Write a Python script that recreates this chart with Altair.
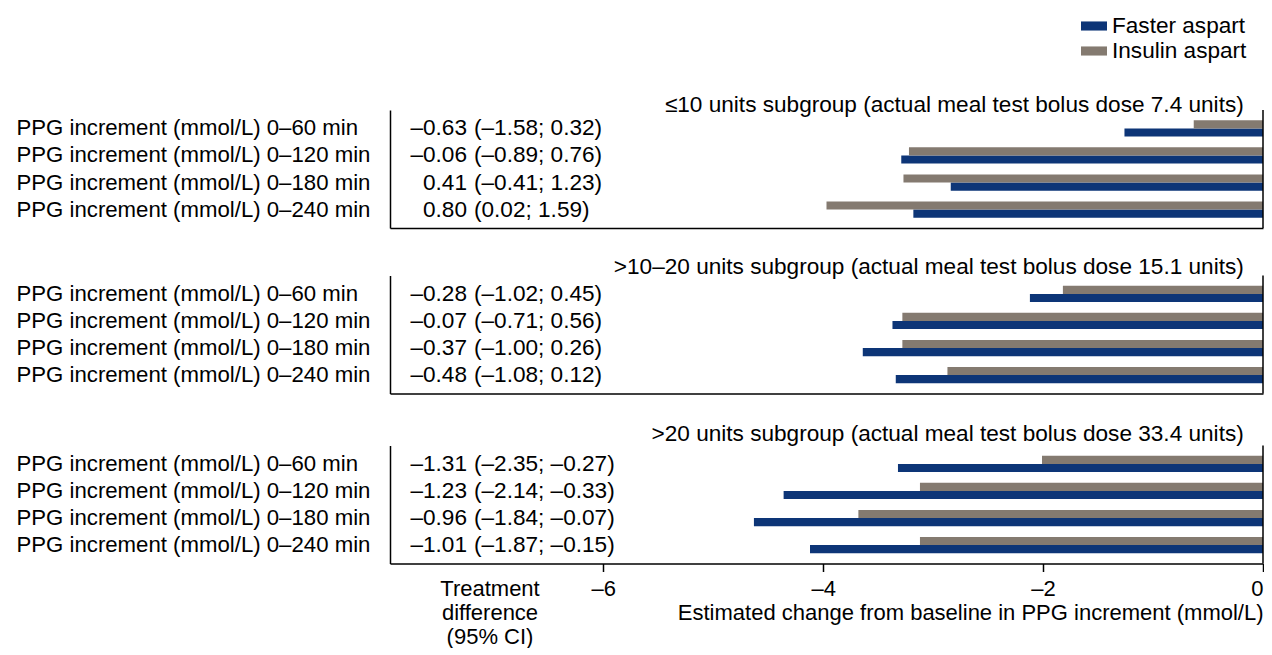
import altair as alt
import pandas as pd

FONT = "Liberation Sans"

rows = [
    "PPG increment (mmol/L) 0–60 min",
    "PPG increment (mmol/L) 0–120 min",
    "PPG increment (mmol/L) 0–180 min",
    "PPG increment (mmol/L) 0–240 min",
]
treatments = ["Faster aspart", "Insulin aspart"]
colors = ["#0d3577", "#847a70"]
subgroups = [
    "≤10 units subgroup (actual meal test bolus dose 7.4 units)",
    ">10–20 units subgroup (actual meal test bolus dose 15.1 units)",
    ">20 units subgroup (actual meal test bolus dose 33.4 units)",
]

faster_1 = [-1.26, -3.29, -2.84, -3.18]
insulin_1 = [-0.63, -3.22, -3.27, -3.97]
faster_2 = [-2.12, -3.37, -3.64, -3.34]
insulin_2 = [-1.82, -3.28, -3.28, -2.87]
faster_3 = [-3.32, -4.36, -4.63, -4.12]
insulin_3 = [-2.01, -3.12, -3.68, -3.12]

est_1 = ["–0.63", "–0.06", "0.41", "0.80"]
ci_1 = ["(–1.58; 0.32)", "(–0.89; 0.76)", "(–0.41; 1.23)", "(0.02; 1.59)"]
est_2 = ["–0.28", "–0.07", "–0.37", "–0.48"]
ci_2 = ["(–1.02; 0.45)", "(–0.71; 0.56)", "(–1.00; 0.26)", "(–1.08; 0.12)"]
est_3 = ["–1.31", "–1.23", "–0.96", "–1.01"]
ci_3 = ["(–2.35; –0.27)", "(–2.14; –0.33)", "(–1.84; –0.07)", "(–1.87; –0.15)"]

tick_values = [-6, -4, -2, 0]
x_title = "Estimated change from baseline in PPG increment (mmol/L)"
diff_header = "Treatment\ndifference\n(95% CI)"

panels_data = [
    (subgroups[0], faster_1, insulin_1, est_1, ci_1, -7),
    (subgroups[1], faster_2, insulin_2, est_2, ci_2, -4),
    (subgroups[2], faster_3, insulin_3, est_3, ci_3, -1),
]

FS = 22.6
W, H = 873, 118
x_scale = alt.Scale(domain=[-7.94, 0], nice=False)
y_scale = alt.Scale(paddingInner=0.4, paddingOuter=0.38)
y_axis = alt.Axis(title=None, ticks=False, tickSize=0, labelAlign="left", labelPadding=374,
                  labelLimit=500, labelBaseline="middle", labelFontSize=22.2, domain=True)


def panel(title, fa, ia, est, ci, toff, last):
    bar_df = pd.DataFrame({
        "row": rows * 2,
        "treatment": ["Faster aspart"] * 4 + ["Insulin aspart"] * 4,
        "value": fa + ia,
    })
    if last:
        xaxis = alt.Axis(values=tick_values, ticks=True, tickSize=8, labelPadding=7,
                         labelFlush=True,
                         labelExpr="datum.value == 0 ? '0' : '–' + format(abs(datum.value), 'd')",
                         title=x_title, titleAnchor="end", titlePadding=3)
    else:
        xaxis = alt.Axis(labels=False, ticks=False, title=None, domain=True)
    bars = alt.Chart(bar_df).mark_bar().encode(
        x=alt.X("value:Q", scale=x_scale, axis=xaxis),
        y=alt.Y("row:N", sort=rows, scale=y_scale, axis=y_axis),
        yOffset=alt.YOffset("treatment:N", sort=["Insulin aspart", "Faster aspart"]),
        color=alt.Color("treatment:N", scale=alt.Scale(domain=treatments, range=colors),
                        legend=alt.Legend(title=None)),
    )
    diff_df = pd.DataFrame({"row": rows, "est": est, "ci": ci})
    est_text = alt.Chart(diff_df).mark_text(align="right", baseline="middle", fontSize=FS, font=FONT,
                                            color="black").encode(
        x=alt.value(77),
        y=alt.Y("row:N", sort=rows),
        text="est:N",
    )
    ci_text = alt.Chart(diff_df).mark_text(align="left", baseline="middle", fontSize=FS, font=FONT,
                                           color="black").encode(
        x=alt.value(84),
        y=alt.Y("row:N", sort=rows),
        text="ci:N",
    )
    zero_df = pd.DataFrame({"z": [0]})
    rule = alt.Chart(zero_df).mark_rule(color="black", strokeWidth=1.5).encode(
        x=alt.X("z:Q")
    )
    layers = [bars, est_text, ci_text, rule]
    if last:
        hdr_df = pd.DataFrame({"t": [diff_header]})
        hdr = alt.Chart(hdr_df).mark_text(align="center", baseline="alphabetic", lineBreak="\n",
                                          lineHeight=24, fontSize=22, font=FONT, color="black").encode(
            x=alt.value(100), y=alt.value(H + 32), text="t:N"
        )
        layers.append(hdr)
    return alt.layer(*layers).properties(
        width=W, height=H,
        title=alt.Title(title, anchor="end", dx=-20, fontSize=FS, fontWeight="normal", font=FONT,
                        color="black", offset=toff),
    )


p = [panel(t, f, i, e, c, o, k == 2) for k, (t, f, i, e, c, o) in enumerate(panels_data)]

chart = alt.vconcat(
    alt.vconcat(p[0], p[1], spacing=26.5),
    p[2],
    spacing=27.5,
).configure_view(stroke=None).configure_axis(
    grid=False, domainColor="black", domainWidth=1.5, tickColor="black", tickWidth=1.5,
    labelFont=FONT, titleFont=FONT, labelColor="black", titleColor="black",
    labelFontSize=22, titleFontSize=22, titleFontWeight="normal",
).configure_legend(
    orient="none", legendX=691, legendY=-97,
    symbolType="M-1,-0.35L1,-0.35L1,0.35L-1,0.35Z", symbolSize=676, symbolStrokeWidth=0,
    labelFont=FONT, labelFontSize=FS, labelColor="black", labelOffset=5, rowPadding=-3.5,
).properties(padding={"left": 8, "top": 5, "right": 0, "bottom": 0})

chart.save("out.html", embed_options={"renderer": "svg", "actions": False})
